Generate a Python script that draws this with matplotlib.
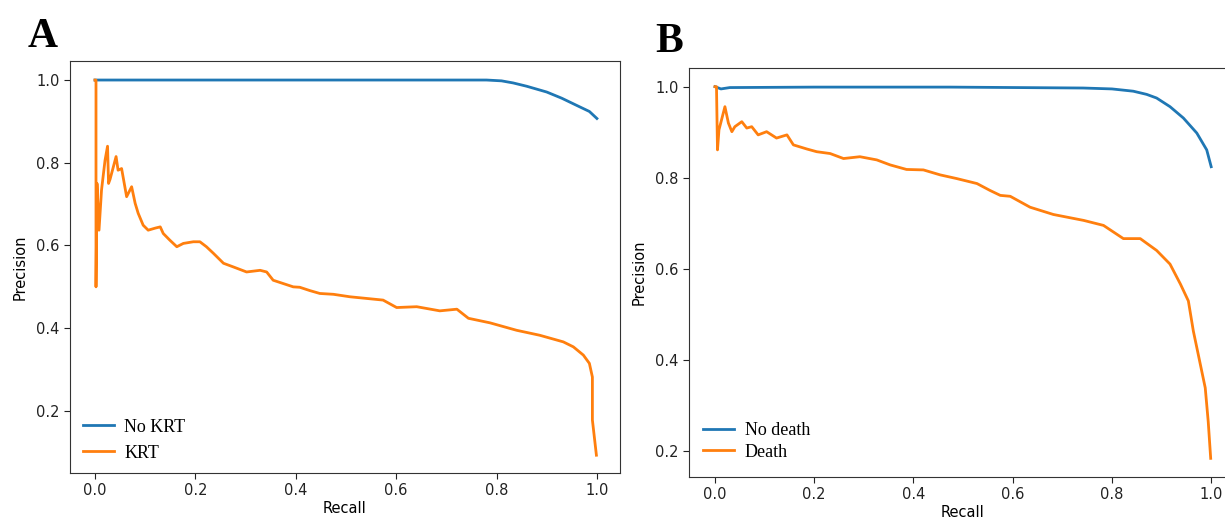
import matplotlib
matplotlib.use("Agg")
import matplotlib.pyplot as plt

# Panel A: KRT precision-recall
a_nokrt_recall = [0.0, 0.30, 0.60, 0.78, 0.81, 0.833, 0.86, 0.90, 0.93, 0.966, 0.985, 1.0]
a_nokrt_prec = [1.0, 1.0, 1.0, 1.0, 0.998, 0.993, 0.985, 0.971, 0.956, 0.935, 0.924, 0.907]

a_krt_recall = [0.0, 0.002, 0.002, 0.004, 0.008, 0.013, 0.02, 0.025, 0.027, 0.03,
                0.042, 0.046, 0.053, 0.063, 0.073, 0.080, 0.086, 0.096, 0.106, 0.12,
                0.13, 0.136, 0.149, 0.163, 0.176, 0.196, 0.209, 0.222, 0.236, 0.256,
                0.276, 0.302, 0.329, 0.342, 0.355, 0.395, 0.408, 0.428, 0.448, 0.475,
                0.508, 0.541, 0.574, 0.601, 0.641, 0.687, 0.721, 0.744, 0.787, 0.84,
                0.886, 0.933, 0.953, 0.973, 0.985, 0.991, 0.991, 0.999]
a_krt_prec = [1.0, 1.0, 0.5, 0.75, 0.637, 0.734, 0.806, 0.84, 0.75, 0.76,
              0.815, 0.782, 0.786, 0.718, 0.742, 0.702, 0.678, 0.649, 0.637, 0.642,
              0.645, 0.629, 0.613, 0.597, 0.605, 0.609, 0.609, 0.597, 0.581, 0.557,
              0.548, 0.536, 0.540, 0.536, 0.516, 0.500, 0.499, 0.491, 0.484, 0.482,
              0.476, 0.472, 0.468, 0.450, 0.452, 0.442, 0.446, 0.424, 0.413, 0.395,
              0.383, 0.367, 0.355, 0.335, 0.315, 0.282, 0.178, 0.093]

# Panel B: death precision-recall
b_nodeath_recall = [0.0, 0.012, 0.03, 0.2, 0.474, 0.742, 0.80, 0.843, 0.87, 0.89, 0.917,
                    0.944, 0.971, 0.991, 1.0]
b_nodeath_prec = [1.0, 0.995, 0.998, 0.999, 0.999, 0.997, 0.995, 0.99, 0.983, 0.975,
                  0.956, 0.931, 0.898, 0.861, 0.824]

b_death_recall = [0.0, 0.003, 0.005, 0.008, 0.02, 0.027, 0.034, 0.04, 0.054, 0.064,
                  0.074, 0.087, 0.104, 0.124, 0.145, 0.158, 0.185, 0.205, 0.232, 0.259,
                  0.292, 0.326, 0.353, 0.386, 0.42, 0.454, 0.487, 0.528, 0.554, 0.575,
                  0.595, 0.635, 0.682, 0.743, 0.783, 0.823, 0.857, 0.89, 0.917, 0.938,
                  0.954, 0.964, 0.974, 0.988, 0.994, 0.999]
b_death_prec = [1.0, 1.0, 0.861, 0.905, 0.956, 0.92, 0.901, 0.912, 0.923, 0.909,
                0.912, 0.894, 0.901, 0.887, 0.894, 0.872, 0.863, 0.857, 0.853, 0.842,
                0.846, 0.839, 0.828, 0.818, 0.817, 0.806, 0.798, 0.787, 0.772, 0.761,
                0.759, 0.735, 0.719, 0.706, 0.695, 0.666, 0.666, 0.64, 0.61, 0.566,
                0.529, 0.463, 0.411, 0.338, 0.264, 0.183]

xticks = [0.0, 0.2, 0.4, 0.6, 0.8, 1.0]
a_yticks = [0.2, 0.4, 0.6, 0.8, 1.0]
b_yticks = [0.2, 0.4, 0.6, 0.8, 1.0]

BLUE = "#1f77b4"
ORANGE = "#ff7f0e"
W, H = 1225, 521

fig = plt.figure(figsize=(W / 100, H / 100), dpi=100)

def box(l, t, r, b):
    return [l / W, 1 - b / H, (r - l) / W, (b - t) / H]

axA = fig.add_axes(box(70, 61, 620, 473))
axB = fig.add_axes(box(689, 68, 1236, 477))

serif = ["Liberation Serif", "DejaVu Serif"]

def style(ax, yticks):
    ax.set_xticks(xticks)
    ax.set_yticks(yticks)
    ax.tick_params(labelsize=10.5, colors="#222222", length=4)
    for s in ax.spines.values():
        s.set_color("#333333")
    ax.set_xlabel("Recall", fontsize=10.5, labelpad=2)
    ax.set_ylabel("Precision", fontsize=10.5, labelpad=6)

axA.plot(a_nokrt_recall, a_nokrt_prec, color=BLUE, lw=2, label="No KRT")
axA.plot(a_krt_recall, a_krt_prec, color=ORANGE, lw=2, label="KRT")
axA.set_xlim(-0.0498, 1.046)
axA.set_ylim(0.05, 1.046)
style(axA, a_yticks)
axA.legend(loc="lower left", frameon=False, prop={"family": serif, "size": 13},
           handlelength=1.7, handletextpad=0.6, labelspacing=0.5,
           bbox_to_anchor=(-0.006, -0.012))

axB.plot(b_nodeath_recall, b_nodeath_prec, color=BLUE, lw=2, label="No death")
axB.plot(b_death_recall, b_death_prec, color=ORANGE, lw=2, label="Death")
axB.set_xlim(-0.0524, 1.05)
axB.set_ylim(0.142, 1.041)
style(axB, b_yticks)
axB.legend(loc="lower left", frameon=False, prop={"family": serif, "size": 13},
           handlelength=1.7, handletextpad=0.6, labelspacing=0.25,
           bbox_to_anchor=(-0.004, 0.0))

fig.text(28 / W, 1 - 47 / H, "A", family=serif, weight="bold", fontsize=30)
fig.text(655 / W, 1 - 52 / H, "B", family=serif, weight="bold", fontsize=30)

fig.savefig("out.png", dpi=100)
